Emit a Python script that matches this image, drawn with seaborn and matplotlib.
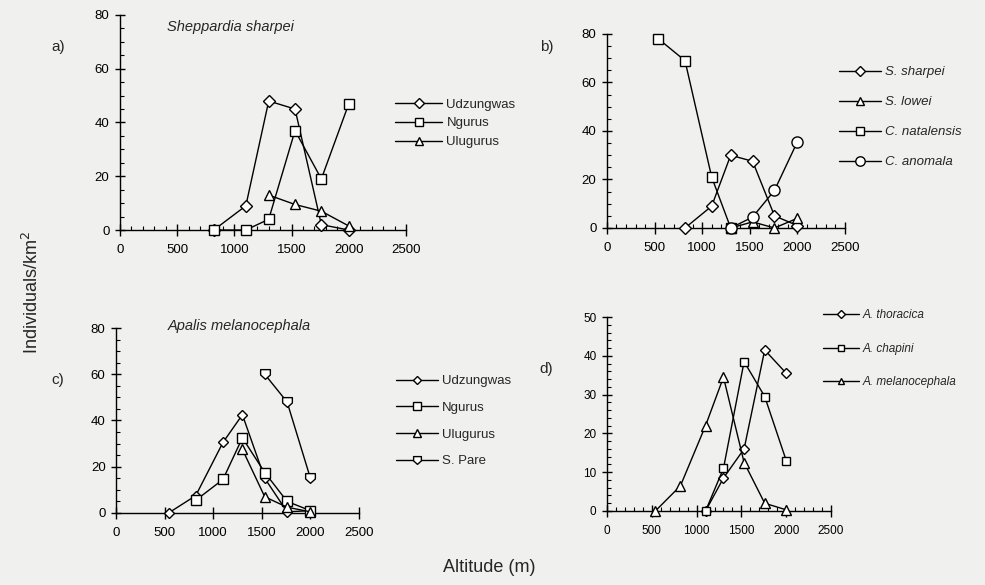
import numpy as np
import pandas as pd
import matplotlib
matplotlib.use("Agg")
import matplotlib.pyplot as plt
from matplotlib.path import Path
from matplotlib.ticker import MultipleLocator
import seaborn as sns

# ---------------- data ----------------
# Panel a) Sheppardia sharpei
a_udz_alt = [820, 1100, 1300, 1530, 1760, 2000]
a_udz = [0, 9, 48, 45, 2, 0]
a_ngu_alt = [820, 1100, 1300, 1530, 1760, 2000]
a_ngu = [0, 0, 4, 37, 19, 47]
a_ulu_alt = [1300, 1530, 1760, 2000]
a_ulu = [13, 9.5, 7, 1.5]

# Panel b)
b_sha_alt = [820, 1100, 1300, 1530, 1760, 2000]
b_sha = [0, 9, 30, 27.5, 5, 1]
b_low_alt = [1300, 1530, 1760, 2000]
b_low = [0, 2.5, 0, 4]
b_nat_alt = [540, 820, 1100, 1300]
b_nat = [78, 69, 21, 0]
b_ano_alt = [1300, 1530, 1760, 2000]
b_ano = [0, 4.5, 15.5, 35.5]

# Panel c) Apalis melanocephala
c_udz_alt = [540, 820, 1100, 1300, 1530, 1760, 2000]
c_udz = [0, 7.5, 30.5, 42.5, 15, 0.5, 1]
c_ngu_alt = [820, 1100, 1300, 1530, 1760, 2000]
c_ngu = [5.5, 14.5, 32.5, 17.5, 5, 1]
c_ulu_alt = [1300, 1530, 1760, 2000]
c_ulu = [27.5, 7, 2.5, 0.5]
c_par_alt = [1530, 1760, 2000]
c_par = [60, 48, 15]

# Panel d)
d_tho_alt = [1100, 1300, 1530, 1760, 2000]
d_tho = [0, 8.5, 16, 41.5, 35.5]
d_cha_alt = [1100, 1300, 1530, 1760, 2000]
d_cha = [0, 11, 38.5, 29.5, 13]
d_mel_alt = [540, 820, 1100, 1300, 1530, 1760, 2000]
d_mel = [0, 6.5, 22, 34.5, 12.5, 2, 0.3]

x_ticks = [0, 500, 1000, 1500, 2000, 2500]

# ---------------- style ----------------
sns.set_theme(style="ticks")
BG = "#f0f0ee"
plt.rcParams["font.family"] = ["Liberation Sans", "DejaVu Sans"]
plt.rcParams["axes.facecolor"] = BG
plt.rcParams["figure.facecolor"] = BG

shield = Path([(-1, 1), (1, 1), (1, -0.1), (0, -1), (-1, -0.1), (-1, 1)],
              [Path.MOVETO, Path.LINETO, Path.LINETO, Path.LINETO, Path.LINETO, Path.CLOSEPOLY])

fig = plt.figure(figsize=(9.85, 5.85), dpi=100)

pos = {
    "a": [0.1218, 0.6068, 0.2904, 0.3676],
    "b": [0.6162, 0.6103, 0.2416, 0.3316],
    "c": [0.1178, 0.1231, 0.2467, 0.3162],
    "d": [0.6162, 0.1265, 0.2275, 0.3316],
}


def style_ax(ax, ymax, ymaj, yminor, xminor=True):
    ax.set_xlim(0, 2500)
    ax.set_ylim(0, ymax)
    ax.set_xticks(x_ticks)
    ax.set_yticks(np.arange(0, ymax + 1, ymaj))
    if xminor:
        ax.xaxis.set_minor_locator(MultipleLocator(100))
    ax.yaxis.set_minor_locator(MultipleLocator(yminor))
    for s in ["top", "right"]:
        ax.spines[s].set_visible(False)
    for s in ["left", "bottom"]:
        ax.spines[s].set_linewidth(1.0)
        ax.spines[s].set_color("black")
    ax.tick_params(axis="x", which="major", direction="inout", length=8, width=1,
                   labelsize=9.5, pad=6, colors="black")
    ax.tick_params(axis="y", which="major", direction="inout", length=7, width=1,
                   labelsize=9.5, pad=4, colors="black")
    ax.tick_params(axis="both", which="minor", direction="in", length=3, width=0.8, colors="black")
    ax.set_xlabel("")
    ax.set_ylabel("")


def series(ax, x, y, marker, label, ms=6.5):
    sns.lineplot(x=x, y=y, ax=ax, color="black", linewidth=1.0, marker=marker,
                 markersize=ms, markerfacecolor="white", markeredgecolor="black",
                 markeredgewidth=1.0, label=label, clip_on=False, zorder=3)


# Panel a
ax_a = fig.add_axes(pos["a"])
series(ax_a, a_udz_alt, a_udz, "D", "Udzungwas", 6)
series(ax_a, a_ngu_alt, a_ngu, "s", "Ngurus")
series(ax_a, a_ulu_alt, a_ulu, "^", "Ulugurus", 7)
style_ax(ax_a, 80, 20, 5)
ax_a.text(0.385, 0.945, "Sheppardia sharpei", transform=ax_a.transAxes, style="italic",
          fontsize=10.5, ha="center", va="center")
h, l = ax_a.get_legend_handles_labels()
ax_a.get_legend().remove()
fig.legend(h, l, loc="upper left", bbox_to_anchor=(0.401, 0.832), frameon=False,
           fontsize=9.5, handlelength=3.6, labelspacing=0.5, handletextpad=0.3,
           markerscale=0.8, borderpad=0, borderaxespad=0)

# Panel b
ax_b = fig.add_axes(pos["b"])
series(ax_b, b_sha_alt, b_sha, "D", "S. sharpei", 6)
series(ax_b, b_low_alt, b_low, "^", "S. lowei", 7)
series(ax_b, b_nat_alt, b_nat, "s", "C. natalensis")
series(ax_b, b_ano_alt, b_ano, "o", "C. anomala", 8)
style_ax(ax_b, 80, 20, 5)
h, l = ax_b.get_legend_handles_labels()
ax_b.get_legend().remove()
fig.legend(h, l, loc="upper left", bbox_to_anchor=(0.852, 0.887), frameon=False,
           prop={"style": "italic", "size": 9.5}, handlelength=3.2, markerscale=0.85,
           labelspacing=1.35, handletextpad=0.3, borderpad=0, borderaxespad=0)

# Panel c
ax_c = fig.add_axes(pos["c"])
series(ax_c, c_udz_alt, c_udz, "D", "Udzungwas", 5.5)
series(ax_c, c_ngu_alt, c_ngu, "s", "Ngurus")
series(ax_c, c_ulu_alt, c_ulu, "^", "Ulugurus", 7)
series(ax_c, c_par_alt, c_par, shield, "S. Pare", 7)
style_ax(ax_c, 80, 20, 5, xminor=False)
ax_c.text(0.506, 1.01, "Apalis melanocephala", transform=ax_c.transAxes, style="italic",
          fontsize=10.5, ha="center", va="center")
h, l = ax_c.get_legend_handles_labels()
ax_c.get_legend().remove()
fig.legend(h, l, loc="upper left", bbox_to_anchor=(0.402, 0.359), frameon=False,
           fontsize=9.5, handlelength=3.2, labelspacing=1.1, handletextpad=0.3,
           markerscale=0.8, borderpad=0, borderaxespad=0)

# Panel d
ax_d = fig.add_axes(pos["d"])
series(ax_d, d_tho_alt, d_tho, "D", "A. thoracica", 5.5)
series(ax_d, d_cha_alt, d_cha, "s", "A. chapini", 6)
series(ax_d, d_mel_alt, d_mel, "^", "A. melanocephala", 6.5)
style_ax(ax_d, 50, 10, 2)
for t in ax_d.get_xticklabels() + ax_d.get_yticklabels():
    t.set_fontsize(8.5)
h, l = ax_d.get_legend_handles_labels()
ax_d.get_legend().remove()
fig.legend(h, l, loc="upper left", bbox_to_anchor=(0.836, 0.471), frameon=False,
           prop={"style": "italic", "size": 8.5}, handlelength=3.0, markerscale=0.7,
           labelspacing=1.8, handletextpad=0.3, borderpad=0, borderaxespad=0)

# panel letters
fig.text(0.052, 0.92, "a)", fontsize=11, va="center")
fig.text(0.548, 0.92, "b)", fontsize=11, va="center")
fig.text(0.052, 0.35, "c)", fontsize=11, va="center")
fig.text(0.548, 0.37, "d)", fontsize=11, va="center")

fig.text(0.032, 0.50, "Individuals/km$^2$", rotation=90, fontsize=13, ha="center", va="center")
fig.text(0.497, 0.03, "Altitude (m)", fontsize=13, ha="center", va="center")

fig.savefig("out.png", dpi=100, facecolor=BG)
